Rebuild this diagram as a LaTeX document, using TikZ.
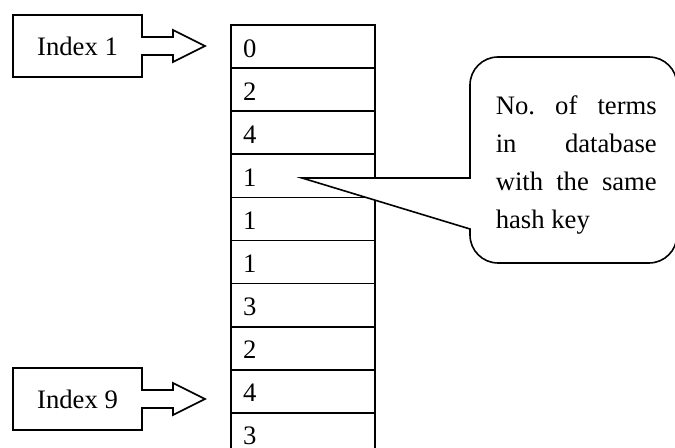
\documentclass[tikz,border=0pt]{standalone}
\usepackage{fontspec}
\setmainfont{Liberation Serif}
\usetikzlibrary{calc}
\newcommand\blkarrow[1]{%
  \fill[white] ($(#1.east)+(-0.8,-9)$) -- ++(31.8,0) -- ++(0,-7) -- ++(32,16) -- ++(-32,16) -- ++(0,-7) -- ++(-31.8,0) -- cycle;
  \draw[line join=miter] ($(#1.east)+(-0.8,-9)$) -- ++(31.8,0) -- ++(0,-7) -- ++(32,16) -- ++(-32,16) -- ++(0,-7) -- ++(-31.8,0);
}
\begin{document}
\begin{tikzpicture}[x=0.75pt,y=-0.75pt,line width=1.2pt,
  every node/.style={font=\fontsize{20pt}{28.5pt}\selectfont},
  idxbox/.style={draw, outer sep=0pt, minimum width=96.75pt, minimum height=46.5pt, inner sep=0pt},
  cell/.style={draw, anchor=north west, outer sep=0pt, minimum width=108pt, minimum height=32.33pt,
    inner xsep=9pt, inner ysep=0pt, text width=90pt, align=left, text height=15.7pt, text depth=0pt}]
\useasboundingbox (0,0) rectangle (675,448);
\clip (0,0) rectangle (675,448);
% table
\foreach \v [count=\i from 0] in {0,2,4,1,1,1,3,2,4,3}
  \node[cell] (c\i) at (231,{25+43.1*\i}) {\v};
% index boxes
\node[idxbox] (idx1) at (77.5,46) {Index 1};
\node[idxbox] (idx9) at (77.5,399) {Index 9};
\blkarrow{idx1}
\blkarrow{idx9}
% callout
\coordinate (tip) at (302,178);
\filldraw[fill=white, line join=miter] (470,178) -- (tip) -- (470,229) -- (470,235)
  arc[start angle=180, end angle=270, radius=21pt] -- (649,263)
  arc[start angle=270, end angle=360, radius=21pt] -- (677,85)
  arc[start angle=0, end angle=90, radius=21pt] -- (498,57)
  arc[start angle=90, end angle=180, radius=21pt] -- cycle;
\node[anchor=north west, inner sep=0pt, align=left] (note) at (495,94.5)
  {\hbox to 120.75pt{No.\hfil of\hfil terms}\\
   \hbox to 120.75pt{in\hfil database}\\
   \hbox to 120.75pt{with\hfil the\hfil same}\\
   hash key};
\end{tikzpicture}
\end{document}
